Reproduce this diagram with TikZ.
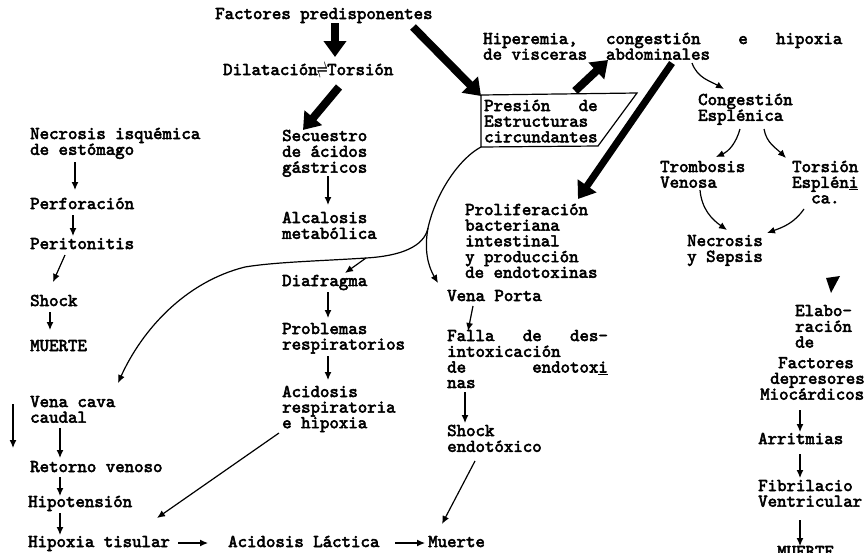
\documentclass[tikz,border=0pt]{standalone}
\usepackage{fontspec}
\newfontfamily\tw{lmmono10-regular}[Extension=.otf, FakeBold=3]
\usetikzlibrary{calc,positioning,arrows.meta}
\newcommand{\lns}[1]{\begin{tabular}[t]{@{}l@{}}#1\end{tabular}}

\begin{document}
\begin{tikzpicture}[x=1pt,y=-1pt,
  lbl/.style={anchor=base west, inner sep=0pt, font=\tw\fontsize{18}{15.5}\selectfont},
  fl/.style={-{Latex[length=8pt,width=7pt]}, line width=1.2pt},
  gr/.style={-{Triangle[length=16pt,width=22pt]}, line width=8pt}]
\path[fill=white, use as bounding box] (0,0) rectangle (867,552);

\node[lbl] (fac) at (215,19) {Factores predisponentes};
\node[lbl] (dil) at (223,75) {Dilatación\makebox[9.5pt]{\raisebox{-2.5pt}{\scalebox{0.55}[1.4]{\boldmath$\rightleftharpoons$}}}Torsión};
\node[lbl] (sec) at (282,141) {\lns{Secuestro\\de ácidos\\gástricos}};
\node[lbl] (alc) at (282,223) {\lns{Alcalosis\\metabólica}};
\node[lbl] (box) at (484,111) {\lns{Presión~~~de\\Estructuras\\circundantes}};
\node[lbl] (hip) at (483,44) {\lns{Hiperemia,~~~congestión~~~~e~~~hipoxia\\de visceras~~abdominales}};
\node[lbl] (cong) at (698,105) {\lns{Congestión\\Esplénica}};
\node[lbl] (trom) at (660,172) {\lns{Trombosis\\Venosa}};
\node[lbl] (tors) at (792,172) {\lns{Torsión\\Esplén\underline{i}\\\hspace*{19pt}ca.}};
\node[lbl] (necs) at (687,246) {\lns{Necrosis\\y Sepsis}};
\node[lbl] (ela) at (760,316) {\lns{\hspace*{35pt}Elabo-\\\hspace*{35pt}ración\\\hspace*{35pt}de\\[5pt]\hspace*{18pt}Factores\\\hspace*{10pt}depresores\\Miocárdicos}};
\node[lbl] (arr) at (758,444) {Arritmias};
\node[lbl] (fib) at (758,491) {\lns{Fibrilacio\\Ventricular}};
\node[lbl] (mue2) at (777,557) {MUERTE};

\node[lbl] (nec1) at (30,139) {\lns{Necrosis isquémica\\de estómago}};
\node[lbl] (per) at (30,209) {Perforación};
\node[lbl] (perit) at (30,249) {Peritonitis};
\node[lbl] (sho) at (30,306) {Shock};
\node[lbl] (mue1) at (30,351) {MUERTE};
\node[lbl] (diaf) at (282,286) {Diafragma};
\node[lbl] (prob) at (282,334) {\lns{Problemas\\respiratorios}};
\node[lbl] (acr) at (282,397) {\lns{Acidosis\\respiratoria\\e hipoxia}};
\node[lbl] (prol) at (465,215) {\lns{Proliferación\\bacteriana\\intestinal\\y producción\\de endotoxinas}};
\node[lbl] (vp) at (447,301) {Vena Porta};
\node[lbl] (fal) at (447,341) {\lns{Falla~~~de~~~des-\\intoxicación\\de~~~~~~~endotox\underline{i}\\nas}};
\node[lbl] (she) at (447,436) {\lns{Shock\\endotóxico}};
\node[lbl] (vcc) at (30,407) {\lns{Vena cava\\caudal}};
\node[lbl] (ret) at (30,472) {Retorno venoso};
\node[lbl] (hpt) at (28,507) {Hipotensión};
\node[lbl] (hti) at (28,547) {Hipoxia tisular};
\node[lbl] (acl) at (228,547) {Acidosis Láctica};
\node[lbl] (mte) at (428,547) {Muerte};

\draw[line width=1.2pt] ($(box.base west)+(-3,-16)$) -- ($(box.base west)+(153,-18)$)
  -- ($(box.base west)+(114,35)$) -- ($(box.base west)+(-3,36)$) -- cycle;

\draw[gr] ($(fac.base west)+(120,4)$) -- ($(dil.base west)+(112,-18)$);
\draw[gr] ($(dil.base west)+(116,12)$) -- ($(sec.base west)+(21,-11)$);
\draw[gr] ($(fac.base west)+(198,8)$) -- ($(box.base west)+(-3,-15)$);
\draw[gr] ($(box.base west)+(91,-20)$) -- ($(hip.base west)+(125,16)$);
\draw[gr, line width=7pt] ($(hip.base west)+(189,19)$) -- ($(prol.base west)+(113,-16)$);

\draw[fl] ($(hip.base west)+(209,19)$) to[out=-70, in=150] ($(cong.base west)+(26,-16)$);
\draw[fl] ($(cong.base west)+(42,24)$) to[bend left=25] ($(trom.base west)+(56,-15)$);
\draw[fl] ($(cong.base west)+(66,24)$) to[out=-80, in=135] ($(tors.base west)+(-6,-14)$);
\draw[fl] ($(trom.base west)+(40,18)$) to[out=-85, in=145] ($(necs.base west)+(40,-16)$);
\draw[fl] ($(tors.base west)+(12,37)$) to[out=-125, in=20] ($(necs.base west)+(80,-13)$);

\draw[fl] ($(nec1.base west)+(45,23)$) -- ($(per.base west)+(45,-19)$);
\draw[fl] ($(per.base west)+(43,6)$) -- ($(perit.base west)+(43,-13)$);
\draw[fl] ($(perit.base west)+(35,6)$) -- ($(sho.base west)+(23,-24)$);
\draw[fl] ($(sho.base west)+(20,6)$) -- ($(mue1.base west)+(20,-21)$);
\draw[fl] ($(sec.base west)+(46,35)$) -- ($(alc.base west)+(46,-18)$);
\draw[fl] ($(diaf.base west)+(46,6)$) -- ($(prob.base west)+(46,-16)$);
\draw[fl] ($(prob.base west)+(46,22)$) -- ($(acr.base west)+(46,-17)$);
\draw[fl] ($(acr.base west)+(-3,36)$) -- ($(hti.base west)+(129,-29)$);
\draw[fl] ($(vp.base west)+(26,5)$) -- ($(fal.base west)+(21,-10)$);
\draw[fl] ($(fal.base west)+(18,51)$) -- ($(she.base west)+(18,-13)$);
\draw[fl] ($(she.base west)+(28,25)$) -- ($(mte.base west)+(14,-23)$);
\draw[fl] ($(hti.base west)+(150,-4)$) -- ($(acl.base west)+(-20,-4)$);
\draw[fl] ($(acl.base west)+(167,-4)$) -- ($(mte.base west)+(-3,-4)$);
\draw[fl] ($(vcc.base west)+(30,21)$) -- ($(ret.base west)+(30,-14)$);
\draw[fl] ($(ret.base west)+(30,5)$) -- ($(hpt.base west)+(32,-11)$);
\draw[fl] ($(hpt.base west)+(32,6)$) -- ($(hti.base west)+(32,-12)$);
\draw[fl] ($(vcc.base west)+(-17,-3)$) -- ($(vcc.base west)+(-17,41)$);
\draw[fl] ($(ela.base west)+(40,94)$) -- ($(arr.base west)+(42,-12)$);
\draw[fl] ($(arr.base west)+(42,10)$) -- ($(fib.base west)+(42,-13)$);
\draw[fl] ($(fib.base west)+(42,29)$) -- ($(mue2.base west)+(23,-11)$);

\coordinate (split) at ($(box.base west)+(-56,117)$);
\coordinate (rama) at ($(diaf.base west)+(84,-28)$);
\draw[fl] ($(box.base west)+(-3,36)$) .. controls (460,158) and (436,192) .. (split)
  .. controls (424,247) and (400,256) .. (rama)
  .. controls (320,261) and (275,262) .. (245,267)
  .. controls (185,282) and (142,330) .. ($(vcc.base west)+(88,-24)$);
\draw[fl] (split) .. controls (424,250) and (428,266) .. ($(vp.base west)+(-9,-18)$);
\draw[fl] (rama) -- ($(diaf.base west)+(63,-13)$);

\fill ($(ela.base west)+(66,-38)$) -- ($(ela.base west)+(80,-40)$) -- ($(ela.base west)+(71,-23)$) -- cycle;
\end{tikzpicture}
\end{document}
